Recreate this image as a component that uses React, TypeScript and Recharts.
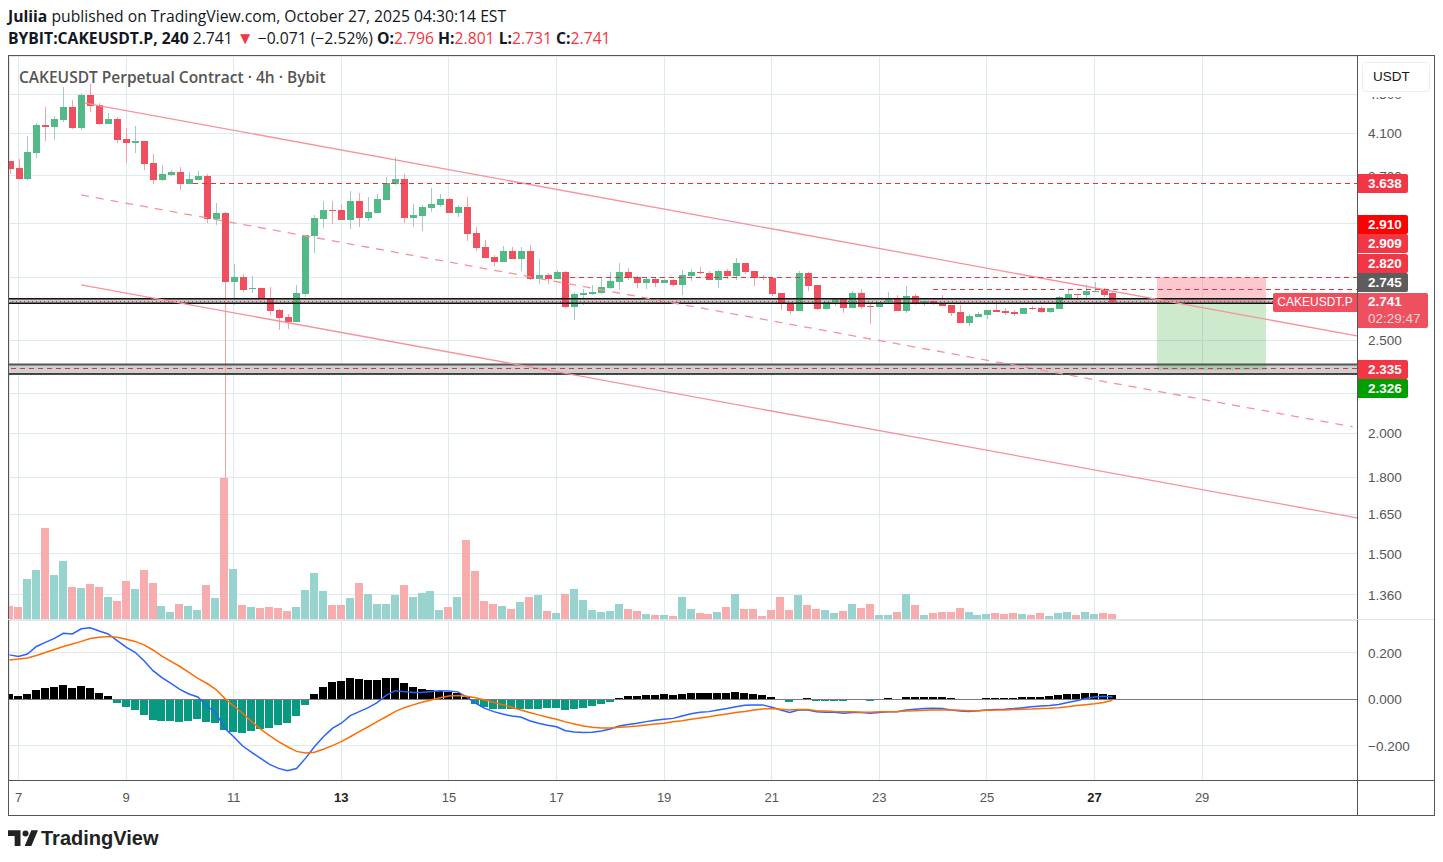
import { Bar, CartesianGrid, ComposedChart, Line, ReferenceArea, ReferenceLine, XAxis, YAxis } from "recharts"

const FIRST_BAR = -1
const opens = [
  3.835, 3.771, 3.674, 3.909, 4.179, 4.159, 4.229, 4.362, 4.149, 4.49,
  4.382, 4.189, 4.24, 4.042, 4.003, 4.022, 3.817, 3.665, 3.709, 3.735,
  3.63, 3.665, 3.7, 3.339, 3.388, 2.873, 2.907, 2.826, 2.833, 2.766,
  2.687, 2.643, 2.612, 2.792, 3.207, 3.339, 3.412, 3.412, 3.331, 3.486,
  3.348, 3.388, 3.494, 3.63, 3.674, 3.348, 3.364, 3.428, 3.453, 3.502,
  3.388, 3.436, 3.23, 3.123, 3.05, 3.014, 3.094, 3.035, 3.094, 2.894,
  2.921, 2.894, 2.942, 2.707, 2.786, 2.792, 2.799, 2.833, 2.873, 2.942,
  2.907, 2.866, 2.894, 2.866, 2.887, 2.853, 2.914, 2.942, 2.935, 2.887,
  2.949, 2.914, 3.007, 2.949, 2.907, 2.9, 2.799, 2.733, 2.681, 2.935,
  2.853, 2.694, 2.739, 2.766, 2.7, 2.799, 2.713, 2.707, 2.739, 2.766,
  2.681, 2.779, 2.733, 2.746, 2.733, 2.72, 2.675, 2.606, 2.643, 2.656,
  2.687, 2.681, 2.675, 2.662, 2.7, 2.7, 2.675, 2.694, 2.766, 2.792,
  2.786, 2.806, 2.819, 2.796,
]
const highs = [
  3.835, 3.853, 4.071, 4.199, 4.362, 4.27, 4.576, 4.436, 4.511, 4.609,
  4.404, 4.301, 4.26, 4.149, 4.169, 4.022, 3.9, 3.799, 3.753, 3.78,
  3.735, 3.744, 3.717, 3.469, 3.396, 3.0, 2.928, 2.914, 2.833, 2.839,
  2.694, 2.662, 2.853, 3.214, 3.372, 3.486, 3.486, 3.461, 3.569, 3.552,
  3.519, 3.544, 3.691, 3.872, 3.717, 3.461, 3.453, 3.595, 3.544, 3.511,
  3.453, 3.519, 3.276, 3.176, 3.064, 3.131, 3.123, 3.123, 3.138, 3.035,
  2.935, 2.956, 2.949, 2.806, 2.826, 2.853, 2.907, 2.942, 3.007, 2.971,
  2.914, 2.907, 2.9, 2.894, 2.894, 2.956, 2.964, 2.978, 2.949, 2.956,
  2.964, 3.043, 3.007, 2.949, 2.921, 2.9, 2.799, 2.739, 2.949, 2.942,
  2.853, 2.752, 2.766, 2.766, 2.812, 2.826, 2.739, 2.739, 2.806, 2.786,
  2.846, 2.792, 2.759, 2.766, 2.786, 2.72, 2.72, 2.662, 2.675, 2.687,
  2.739, 2.7, 2.687, 2.7, 2.713, 2.713, 2.7, 2.779, 2.826, 2.792,
  2.853, 2.873, 2.833, 2.801,
]
const lows = [
  3.717, 3.674, 3.665, 3.863, 4.022, 4.032, 4.209, 4.139, 4.129, 4.311,
  4.179, 4.189, 4.003, 3.817, 3.909, 3.753, 3.63, 3.656, 3.7, 3.578,
  3.63, 3.665, 3.307, 3.292, 1.8, 2.72, 2.806, 2.799, 2.739, 2.656,
  2.562, 2.569, 2.612, 2.772, 3.079, 3.268, 3.3, 3.331, 3.261, 3.276,
  3.323, 3.388, 3.494, 3.621, 3.307, 3.276, 3.245, 3.396, 3.436, 3.388,
  3.356, 3.169, 3.094, 3.043, 2.985, 3.014, 3.035, 2.949, 2.887, 2.859,
  2.859, 2.894, 2.7, 2.624, 2.72, 2.786, 2.792, 2.826, 2.819, 2.887,
  2.833, 2.826, 2.839, 2.866, 2.839, 2.786, 2.88, 2.928, 2.887, 2.833,
  2.894, 2.887, 2.928, 2.846, 2.887, 2.779, 2.687, 2.662, 2.681, 2.812,
  2.687, 2.687, 2.713, 2.668, 2.7, 2.694, 2.6, 2.707, 2.733, 2.681,
  2.668, 2.72, 2.713, 2.72, 2.713, 2.649, 2.606, 2.587, 2.643, 2.631,
  2.675, 2.656, 2.649, 2.662, 2.687, 2.668, 2.668, 2.694, 2.766, 2.746,
  2.766, 2.806, 2.772, 2.731,
]
const closes = [
  3.762, 3.674, 3.918, 4.179, 4.159, 4.24, 4.362, 4.149, 4.49, 4.372,
  4.189, 4.24, 4.032, 4.003, 4.022, 3.808, 3.665, 3.717, 3.735, 3.63,
  3.674, 3.7, 3.339, 3.388, 2.873, 2.907, 2.819, 2.833, 2.759, 2.681,
  2.637, 2.612, 2.799, 3.214, 3.348, 3.412, 3.404, 3.331, 3.486, 3.348,
  3.396, 3.502, 3.639, 3.674, 3.348, 3.372, 3.436, 3.461, 3.502, 3.388,
  3.436, 3.222, 3.116, 3.043, 3.014, 3.094, 3.035, 3.094, 2.894, 2.921,
  2.894, 2.942, 2.707, 2.792, 2.799, 2.806, 2.839, 2.88, 2.942, 2.9,
  2.866, 2.894, 2.866, 2.887, 2.853, 2.921, 2.942, 2.935, 2.887, 2.949,
  2.914, 3.007, 2.942, 2.9, 2.9, 2.792, 2.726, 2.681, 2.935, 2.846,
  2.694, 2.739, 2.766, 2.7, 2.799, 2.707, 2.707, 2.739, 2.766, 2.681,
  2.779, 2.733, 2.746, 2.726, 2.713, 2.668, 2.606, 2.649, 2.662, 2.687,
  2.675, 2.668, 2.662, 2.7, 2.694, 2.675, 2.7, 2.772, 2.792, 2.786,
  2.812, 2.812, 2.786, 2.741,
]
const volumes = [
  13, 12, 40, 49, 91, 44, 58, 32, 31, 35,
  32, 22, 18, 38, 30, 49, 36, 13, 7, 15,
  13, 9, 34, 21, 141, 50, 14, 12, 11, 12,
  11, 8, 12, 29, 46, 28, 14, 14, 21, 36,
  25, 15, 15, 24, 34, 22, 26, 28, 9, 12,
  22, 79, 48, 18, 15, 13, 10, 17, 22, 24,
  8, 6, 25, 30, 19, 9, 7, 8, 15, 10,
  8, 5, 4, 4, 3, 22, 10, 6, 5, 7,
  12, 25, 10, 10, 3, 9, 22, 9, 24, 14,
  10, 9, 6, 8, 15, 11, 15, 4, 4, 7,
  25, 14, 4, 6, 7, 7, 11, 7, 4, 5,
  6, 5, 6, 5, 4, 6, 3, 6, 7, 4,
  7, 5, 6, 5,
]
const macdLine = [
  0.191, 0.184, 0.195, 0.227, 0.245, 0.262, 0.284, 0.281, 0.303, 0.308,
  0.294, 0.281, 0.252, 0.224, 0.202, 0.166, 0.123, 0.093, 0.069, 0.043,
  0.023, 0.01, -0.029, -0.057, -0.125, -0.161, -0.201, -0.228, -0.254, -0.28,
  -0.297, -0.307, -0.298, -0.254, -0.204, -0.161, -0.125, -0.103, -0.07, -0.053,
  -0.036, -0.014, 0.017, 0.037, 0.033, 0.029, 0.029, 0.034, 0.037, 0.036,
  0.032, 0.009, -0.017, -0.039, -0.053, -0.063, -0.072, -0.076, -0.092, -0.103,
  -0.112, -0.118, -0.135, -0.141, -0.143, -0.142, -0.136, -0.128, -0.115, -0.108,
  -0.103, -0.096, -0.09, -0.086, -0.082, -0.072, -0.062, -0.056, -0.053, -0.046,
  -0.04, -0.032, -0.026, -0.024, -0.024, -0.034, -0.046, -0.057, -0.046, -0.046,
  -0.054, -0.056, -0.056, -0.06, -0.057, -0.057, -0.06, -0.057, -0.054, -0.053,
  -0.046, -0.043, -0.04, -0.039, -0.04, -0.046, -0.05, -0.052, -0.049, -0.046,
  -0.044, -0.043, -0.04, -0.036, -0.032, -0.029, -0.027, -0.022, -0.014, -0.006,
  0.003, 0.01, 0.013, 0.01,
]
const signalLine = [
  0.169, 0.173, 0.178, 0.188, 0.201, 0.214, 0.227, 0.238, 0.249, 0.261,
  0.267, 0.27, 0.267, 0.258, 0.249, 0.234, 0.212, 0.186, 0.163, 0.141,
  0.116, 0.09, 0.069, 0.043, 0.004, -0.029, -0.06, -0.096, -0.128, -0.156,
  -0.182, -0.204, -0.224, -0.231, -0.228, -0.215, -0.199, -0.182, -0.161, -0.139,
  -0.118, -0.096, -0.075, -0.053, -0.036, -0.024, -0.013, -0.003, 0.007, 0.014,
  0.016, 0.013, 0.007, -0.003, -0.013, -0.023, -0.034, -0.046, -0.057, -0.067,
  -0.077, -0.086, -0.097, -0.106, -0.115, -0.12, -0.123, -0.123, -0.12, -0.118,
  -0.115, -0.11, -0.106, -0.103, -0.097, -0.092, -0.086, -0.08, -0.075, -0.069,
  -0.063, -0.057, -0.052, -0.046, -0.042, -0.04, -0.043, -0.046, -0.044, -0.044,
  -0.049, -0.05, -0.052, -0.053, -0.054, -0.056, -0.056, -0.054, -0.053, -0.052,
  -0.05, -0.049, -0.047, -0.046, -0.046, -0.046, -0.047, -0.049, -0.049, -0.047,
  -0.046, -0.046, -0.044, -0.043, -0.042, -0.04, -0.039, -0.036, -0.032, -0.027,
  -0.023, -0.019, -0.014, -0.004,
]
const histogram = [
  0.023, 0.014, 0.023, 0.04, 0.049, 0.053, 0.062, 0.049, 0.057, 0.049,
  0.027, 0.014, -0.016, -0.033, -0.046, -0.067, -0.089, -0.093, -0.093, -0.097,
  -0.093, -0.085, -0.097, -0.102, -0.132, -0.14, -0.145, -0.136, -0.128, -0.123,
  -0.11, -0.102, -0.072, -0.024, 0.023, 0.053, 0.075, 0.079, 0.092, 0.087,
  0.083, 0.083, 0.092, 0.092, 0.07, 0.053, 0.044, 0.04, 0.037, 0.032,
  0.026, 0.008, -0.02, -0.032, -0.042, -0.042, -0.042, -0.042, -0.042, -0.04,
  -0.039, -0.039, -0.046, -0.042, -0.039, -0.029, -0.02, -0.012, 0.004, 0.014,
  0.014, 0.019, 0.019, 0.023, 0.019, 0.023, 0.027, 0.027, 0.027, 0.027,
  0.027, 0.032, 0.027, 0.023, 0.019, 0.01, 0.001, -0.012, -0.003, 0.006,
  -0.007, -0.007, -0.007, -0.007, -0.003, -0.003, -0.007, -0.003, 0.006, -0.002,
  0.01, 0.01, 0.01, 0.01, 0.01, 0.006, -0.001, -0.001, -0.001, 0.006,
  0.006, 0.006, 0.006, 0.01, 0.01, 0.01, 0.014, 0.019, 0.023, 0.023,
  0.027, 0.027, 0.023, 0.019,
]

const dayTicks = [0, 12, 24, 36, 48, 60, 72, 84, 96, 108, 120, 132]
const dayLabels = ["7", "9", "11", "13", "15", "17", "19", "21", "23", "25", "27", "29"]
const boldDays = ["13", "27"]
const priceTicks = [1.36, 1.5, 1.65, 1.8, 2.0, 2.2, 2.5, 2.9, 3.3, 3.7, 4.1, 4.5]
const macdTicks = [-0.2, 0, 0.2]

const rows = opens.map((open, n) => ({
  bar: FIRST_BAR + n,
  open,
  high: highs[n],
  low: lows[n],
  close: closes[n],
  volume: volumes[n],
  macd: macdLine[n],
  signal: signalLine[n],
  hist: histogram[n],
}))

const UP = "#53b987"
const DOWN = "#ef5060"
const UP_WICK = "#9fcbcb"
const DOWN_WICK = "#f5a0a9"
const GRID = "#dfe9f0"
const TREND = "#f7929c"
const LEVEL = "#e8303f"
const INK = "#131722"
const AXIS_TEXT = "#555"
const FONT = "'Liberation Sans', Arial, sans-serif"
const HEAD_FONT = "'Open Sans', sans-serif"
const X_DOMAIN = [-1.059, 149.27]

function Candle({ x, y, width, height, payload }: any) {
  const { open, high, low, close } = payload
  const span = Math.log(high / low)
  const yOf = (v: number) => y + (height * Math.log(high / v)) / span
  const up = close >= open
  const top = yOf(Math.max(open, close))
  const bottom = yOf(Math.min(open, close))
  const mid = Math.round(x + width / 2)
  return (
    <g shapeRendering="crispEdges">
      <rect x={mid} y={y} width={1} height={height} fill={up ? UP_WICK : DOWN_WICK} />
      <rect x={mid - 3} y={top} width={7} height={Math.max(bottom - top, 1)} fill={up ? UP : DOWN} />
    </g>
  )
}

function VolumeBar({ x, y, width, height, payload }: any) {
  const up = payload.close >= payload.open
  return <rect x={x} y={y} width={width} height={height} fill={up ? "#92d2cc" : "#f7a9a9"} fillOpacity={0.95} shapeRendering="crispEdges" />
}

function HistBar({ x, y, width, height, payload }: any) {
  const top = Math.min(y, y + height)
  return (
    <rect
      x={x}
      y={top}
      width={width}
      height={Math.max(Math.abs(height), 1)}
      fill={payload.hist >= 0 ? "#000" : "#089981"}
      shapeRendering="crispEdges"
    />
  )
}

function DayTick({ x, y, payload }: any) {
  const label = dayLabels[dayTicks.indexOf(payload.value)]
  return (
    <text x={x} y={y + 14} textAnchor="middle" fontSize={13} fontFamily={FONT} fill={boldDays.includes(label) ? "#222" : AXIS_TEXT} fontWeight={boldDays.includes(label) ? 700 : 400}>
      {label}
    </text>
  )
}

function Tag({ top, bg, text }: any) {
  return (
    <div
      style={{
        position: "absolute", left: 1358, top, width: 50, height: 19, paddingLeft: 10, boxSizing: "border-box",
        background: bg, color: "#fff", font: `700 13.5px/19px ${FONT}`, borderRadius: "0 2px 2px 0", zIndex: 5,
      }}
    >
      {text}
    </div>
  )
}

export default function App() {
  const tickStyle = { fontSize: 13.5, fontFamily: FONT, fill: AXIS_TEXT }
  const headLine = { position: "absolute", left: 8, fontFamily: HEAD_FONT, fontSize: 15.7, lineHeight: "18px", color: INK, whiteSpace: "nowrap" } as const
  const red = { color: "#f23645" }
  return (
    <div style={{ position: "absolute", left: 0, top: 0, width: 1443, height: 862, background: "#fff", overflow: "hidden", fontFamily: FONT }}>
      <div style={{ ...headLine, top: 7 }}>
        <b>Juliia</b> published on TradingView.com, October 27, 2025 04:30:14 EST
      </div>
      <div style={{ ...headLine, top: 29 }}>
        <b>BYBIT:CAKEUSDT.P, 240</b> 2.741 <span style={{ ...red, fontSize: 17, lineHeight: 0 }}>▼</span> −0.071 (−2.52%) <b>O:</b>
        <span style={red}>2.796</span> <b>H:</b><span style={red}>2.801</span> <b>L:</b>
        <span style={red}>2.731</span> <b>C:</b><span style={red}>2.741</span>
      </div>

      <div style={{ position: "absolute", left: 8, top: 56 }}>
        <ComposedChart width={1426} height={563} data={rows} margin={{ top: 0, right: 0, bottom: 0, left: 1 }}>
          <CartesianGrid yAxisId="price" stroke={GRID} strokeWidth={1} shapeRendering="crispEdges" />
          <XAxis dataKey="bar" type="number" domain={X_DOMAIN} ticks={dayTicks} hide allowDataOverflow />
          <XAxis xAxisId="vol" dataKey="bar" type="number" domain={X_DOMAIN} ticks={dayTicks} hide allowDataOverflow />
          <YAxis
            yAxisId="price" orientation="right" width={77} scale="log" domain={[1.284, 4.928]} ticks={priceTicks}
            allowDataOverflow axisLine={false} tickLine={false} tickMargin={5} tick={tickStyle}
            tickFormatter={(v: number) => v.toFixed(3)} interval={0}
          />
          <YAxis yAxisId="vol" hide domain={[0, 563]} />

          <ReferenceArea yAxisId="price" y1={2.73} y2={2.76} fill="#c9c9c9" fillOpacity={1} stroke="none" />
          <ReferenceLine yAxisId="price" y={2.76} stroke="#111" strokeWidth={1.5} />
          <ReferenceLine yAxisId="price" y={2.73} stroke="#111" strokeWidth={1.5} />
          <ReferenceArea yAxisId="price" y1={2.306} y2={2.359} fill="#d0d0d0" fillOpacity={1} stroke="none" />
          <ReferenceLine yAxisId="price" y={2.359} stroke="#555" strokeWidth={2} />
          <ReferenceLine yAxisId="price" y={2.306} stroke="#111" strokeWidth={1.5} />

          <Bar xAxisId="vol" yAxisId="vol" dataKey="volume" barSize={8} shape={VolumeBar} isAnimationActive={false} />

          <ReferenceLine yAxisId="price" segment={[{ x: 7.42, y: 4.404 }, { x: 149.27, y: 2.525 }]} stroke={TREND} strokeWidth={1.3} />
          <ReferenceLine yAxisId="price" segment={[{ x: 6.97, y: 3.536 }, { x: 148.8, y: 2.032 }]} stroke={TREND} strokeWidth={1.3} strokeDasharray="8 7" />
          <ReferenceLine yAxisId="price" segment={[{ x: 6.97, y: 2.852 }, { x: 149.27, y: 1.635 }]} stroke={TREND} strokeWidth={1.3} />

          <ReferenceLine yAxisId="price" segment={[{ x: 19.5, y: 3.638 }, { x: 149.27, y: 3.638 }]} stroke={LEVEL} strokeDasharray="5 4" shapeRendering="crispEdges" />
          <ReferenceLine yAxisId="price" segment={[{ x: 61.5, y: 2.905 }, { x: 149.27, y: 2.905 }]} stroke={LEVEL} strokeDasharray="5 4" shapeRendering="crispEdges" />
          <ReferenceLine yAxisId="price" segment={[{ x: 102, y: 2.82 }, { x: 149.27, y: 2.82 }]} stroke={LEVEL} strokeDasharray="5 4" shapeRendering="crispEdges" />
          <ReferenceLine yAxisId="price" y={2.335} stroke="#c2404a" strokeDasharray="5 4" shapeRendering="crispEdges" />

          <Bar yAxisId="price" dataKey={(d: any) => [d.low, d.high]} barSize={7} shape={Candle} isAnimationActive={false} />

          <ReferenceLine yAxisId="price" y={2.741} stroke={LEVEL} strokeDasharray="1 3" shapeRendering="crispEdges" />
          <ReferenceArea yAxisId="price" x1={126.96} x2={139.12} y1={2.741} y2={2.905} fill="#f23645" fillOpacity={0.27} stroke="none" />
          <ReferenceArea yAxisId="price" x1={126.96} x2={139.12} y1={2.326} y2={2.741} fill="#4caf50" fillOpacity={0.28} stroke="none" />
        </ComposedChart>
      </div>

      <div style={{ position: "absolute", left: 8, top: 620 }}>
        <ComposedChart width={1426} height={195} data={rows} margin={{ top: 0, right: 0, bottom: 0, left: 1 }}>
          <CartesianGrid stroke={GRID} strokeWidth={1} shapeRendering="crispEdges" />
          <XAxis
            dataKey="bar" type="number" domain={X_DOMAIN} ticks={dayTicks} allowDataOverflow height={35}
            axisLine={false} tickLine={false} tick={DayTick} interval={0}
          />
          <YAxis
            orientation="right" width={77} domain={[-0.347, 0.341]} ticks={macdTicks} allowDataOverflow
            axisLine={false} tickLine={false} tickMargin={5} tick={tickStyle} interval={0}
            tickFormatter={(v: number) => v.toFixed(3).replace("-", "−")}
          />
          <ReferenceLine y={0} stroke="#787b86" shapeRendering="crispEdges" />
          <Bar dataKey="hist" barSize={8} shape={HistBar} isAnimationActive={false} />
          <Line dataKey="macd" type="linear" stroke="#2962ff" strokeWidth={1.5} dot={false} isAnimationActive={false} />
          <Line dataKey="signal" type="linear" stroke="#ff6d00" strokeWidth={1.5} dot={false} isAnimationActive={false} />
        </ComposedChart>
      </div>

      {/* frame and pane separators */}
      <div style={{ position: "absolute", left: 0, top: 56, width: 8, height: 760, background: "#fff", zIndex: 2 }} />
      <div style={{ position: "absolute", left: 8, top: 55, width: 1425, height: 759, border: "1px solid #555", zIndex: 3, pointerEvents: "none" }} />
      <div style={{ position: "absolute", left: 1357, top: 55, width: 1, height: 760, background: "#555", zIndex: 3 }} />
      <div style={{ position: "absolute", left: 8, top: 619, width: 1426, height: 1, background: "#e0e3eb", zIndex: 3 }} />
      <div style={{ position: "absolute", left: 8, top: 780, width: 1426, height: 1, background: "#555", zIndex: 3 }} />

      <div style={{ position: "absolute", left: 19, top: 66, fontFamily: HEAD_FONT, fontSize: 15.5, fontWeight: 600, color: "#555", whiteSpace: "nowrap", zIndex: 4 }}>
        CAKEUSDT Perpetual Contract · 4h · Bybit
      </div>
      <div style={{ position: "absolute", left: 1358, top: 56, width: 75, height: 41, background: "#fff", zIndex: 4 }} />
      <div style={{ position: "absolute", left: 1362, top: 62, width: 68, height: 30, boxSizing: "border-box", border: "1px solid #eee", borderRadius: 4, paddingLeft: 10, font: `13.5px/28px ${FONT}`, color: INK, zIndex: 5 }}>
        USDT
      </div>

      <Tag top={174} bg="#f23645" text="3.638" />
      <Tag top={215} bg="#ff0000" text="2.910" />
      <Tag top={234} bg="#f23645" text="2.909" />
      <Tag top={254} bg="#f23645" text="2.820" />
      <Tag top={273} bg="#5d5d5d" text="2.745" />
      <Tag top={360} bg="#f23645" text="2.335" />
      <Tag top={379} bg="#009f00" text="2.326" />
      <div style={{ position: "absolute", left: 1273, top: 293, width: 84, height: 19, background: "#ef5060", borderRadius: "2px 0 0 2px", color: "#fff", font: `12px/19px ${FONT}`, textAlign: "center", zIndex: 5 }}>
        CAKEUSDT.P
      </div>
      <div style={{ position: "absolute", left: 1358, top: 293, width: 70, height: 35, background: "#ef5060", borderRadius: "0 2px 2px 0", color: "#fff", paddingLeft: 10, boxSizing: "border-box", font: `700 13.5px/17px ${FONT}`, zIndex: 5 }}>
        2.741
        <div style={{ fontWeight: 400, fontSize: 13.5, lineHeight: "17px", color: "#fbd3d7" }}>02:29:47</div>
      </div>

      <svg style={{ position: "absolute", left: 8, top: 830 }} width={30} height={17} viewBox="0 0 36 20">
        <path d="M0 0h15v19H8V7H0zM20 19l8-19h8l-8 19z" fill="#222" />
        <circle cx={21} cy={4} r={3.6} fill="#222" />
      </svg>
      <div style={{ position: "absolute", left: 41, top: 826, font: `700 20px/24px ${FONT}`, color: "#222" }}>TradingView</div>
    </div>
  )
}
